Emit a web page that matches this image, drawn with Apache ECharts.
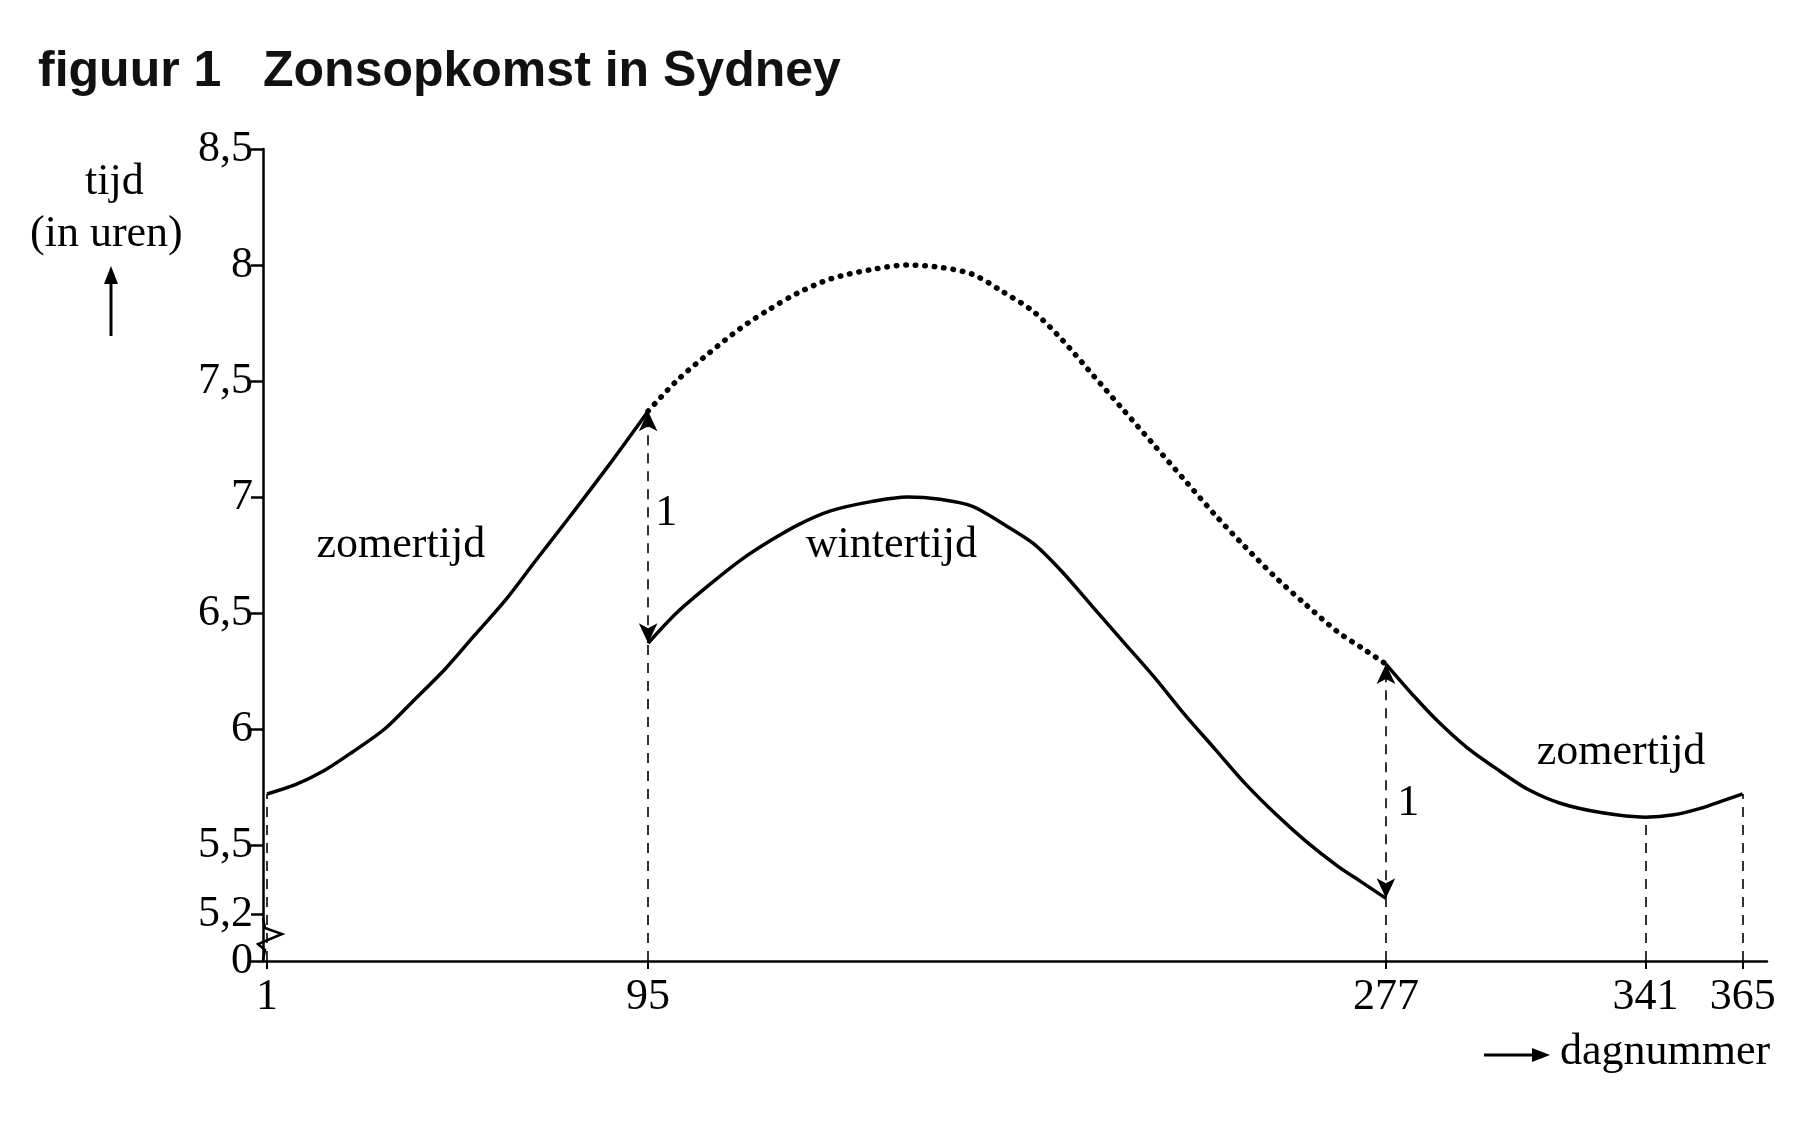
<!DOCTYPE html>
<html>
<head>
<meta charset="utf-8">
<script src="https://cdn.jsdelivr.net/npm/echarts@6/dist/echarts.min.js"></script>
<style>html,body{margin:0;background:#fff}#chart{width:1802px;height:1133px}</style>
</head>
<body>
<div id="chart"></div>
<script>
// dagnummer ticks and tijd ticks
var xTicks = [1, 95, 277, 341, 365];
var yTicks = [5, 5.2, 5.5, 6, 6.5, 7, 7.5, 8, 8.5];

// zonsopkomst (klok) in uren
var zomer1 = [[1, 5.72], [8, 5.76], [15, 5.82], [22, 5.9], [30, 6.0], [37, 6.12], [45, 6.26], [52, 6.4],
    [60, 6.56], [67, 6.72], [75, 6.9], [85, 7.13], [95, 7.37]];
var zomerStippel = [[95, 7.37], [102, 7.5], [110, 7.62], [118, 7.73], [125, 7.81], [132, 7.88], [140, 7.94],
    [150, 7.98], [159, 8.0], [167, 7.99], [175, 7.96], [182, 7.89], [190, 7.8], [197, 7.68], [205, 7.52],
    [212, 7.38], [220, 7.22], [227, 7.08], [235, 6.92], [242, 6.79], [250, 6.65], [257, 6.54], [265, 6.42],
    [271, 6.35], [277, 6.28]];
var winter = [[95, 6.37], [102, 6.5], [110, 6.62], [118, 6.73], [125, 6.81], [132, 6.88], [140, 6.94],
    [150, 6.98], [159, 7.0], [167, 6.99], [175, 6.96], [182, 6.89], [190, 6.8], [197, 6.68], [205, 6.52],
    [212, 6.38], [220, 6.22], [227, 6.07], [235, 5.91], [242, 5.77], [250, 5.63], [257, 5.52], [265, 5.41],
    [271, 5.34], [277, 5.27]];
var zomer2 = [[277, 6.28], [284, 6.14], [290, 6.03], [297, 5.92], [305, 5.82], [312, 5.74], [320, 5.68],
    [330, 5.64], [341, 5.62], [348, 5.63], [355, 5.66], [360, 5.69], [365, 5.72]];

// teksten in de grafiek
var labels = [
    { value: [34, 6.79], text: 'zomertijd' },
    { value: [155, 6.79], text: 'wintertijd' },
    { value: [335, 5.9], text: 'zomertijd' },
    { value: [99.5, 6.93], text: '1' },
    { value: [282.5, 5.68], text: '1' }
];

var serif = 'Liberation Serif';
var dash = { type: [10, 8], width: 1.6, color: '#000' };

function seg(x, y1, y2, arrows) {
    var s = arrows ? 'arrow' : 'none';
    return [{ coord: [x, y1], symbol: s }, { coord: [x, y2], symbol: s }];
}

var chart = echarts.init(document.getElementById('chart'));
chart.setOption({
    animation: false,
    backgroundColor: '#fff',
    title: {
        text: 'figuur 1   Zonsopkomst in Sydney',
        left: 33, top: 42,
        textStyle: { fontFamily: 'Liberation Sans', fontSize: 50, fontWeight: 'bold', color: '#111' }
    },
    grid: { left: 263, right: 35, top: 149, bottom: 172 },
    xAxis: {
        type: 'value', min: 0, max: 371,
        axisLine: { lineStyle: { color: '#000', width: 2.5 } },
        axisTick: { customValues: xTicks, length: 8, lineStyle: { color: '#000', width: 2 } },
        axisLabel: { customValues: xTicks, fontFamily: serif, fontSize: 44, color: '#000', margin: 14 },
        splitLine: { show: false }
    },
    yAxis: {
        type: 'value', min: 5, max: 8.5,
        axisLine: { show: true, lineStyle: { color: '#000', width: 2.5 } },
        axisTick: { show: true, customValues: yTicks, length: 12, lineStyle: { color: '#000', width: 2.5 } },
        axisLabel: {
            customValues: yTicks, fontFamily: serif, fontSize: 44, color: '#000', margin: 10,
            formatter: function (v) { return v === 5 ? '0' : String(v).replace('.', ','); }
        },
        splitLine: { show: false }
    },
    series: [
        { type: 'line', data: zomer1, smooth: 0.3, symbol: 'none', lineStyle: { color: '#000', width: 3.5 } },
        { type: 'line', data: zomerStippel, smooth: 0.3, symbol: 'none',
          lineStyle: { color: '#000', width: 5.5, type: [0.5, 9], cap: 'round' } },
        { type: 'line', data: winter, smooth: 0.3, symbol: 'none', lineStyle: { color: '#000', width: 3.5 },
          markLine: {
              silent: true, symbolSize: [14, 20], label: { show: false }, lineStyle: dash,
              data: [
                  seg(1, 5, 5.72, false),
                  seg(95, 5, 6.37, false),
                  seg(95, 6.37, 7.37, true),
                  seg(277, 5, 5.27, false),
                  seg(277, 5.27, 6.28, true),
                  seg(341, 5, 5.62, false),
                  seg(365, 5, 5.72, false)
              ]
          } },
        { type: 'line', data: zomer2, smooth: 0.3, symbol: 'none', lineStyle: { color: '#000', width: 3.5 } },
        { type: 'scatter', symbolSize: 0, silent: true,
          data: labels.map(function (l) { return { value: l.value, name: l.text }; }),
          label: { show: true, position: 'inside', formatter: '{b}', fontFamily: serif, fontSize: 44,
                   color: '#000', textBorderWidth: 0, opacity: 1 } }
    ],
    graphic: [
        { type: 'text', left: 85, top: 160, style: { text: 'tijd', fontFamily: serif, fontSize: 44, fill: '#000' } },
        { type: 'text', left: 30, top: 212, style: { text: '(in uren)', fontFamily: serif, fontSize: 44, fill: '#000' } },
        { type: 'line', shape: { x1: 111, y1: 336, x2: 111, y2: 278 }, style: { stroke: '#000', lineWidth: 3 } },
        { type: 'polygon', shape: { points: [[111, 266], [104, 284], [118, 284]] }, style: { fill: '#000' } },
        { type: 'line', shape: { x1: 1484, y1: 1055, x2: 1536, y2: 1055 }, style: { stroke: '#000', lineWidth: 3 } },
        { type: 'polygon', shape: { points: [[1550, 1055], [1532, 1048], [1532, 1062]] }, style: { fill: '#000' } },
        { type: 'text', left: 1560, top: 1030, style: { text: 'dagnummer', fontFamily: serif, fontSize: 44, fill: '#000' } },
        { type: 'rect', shape: { x: 258, y: 922, width: 12, height: 30 }, style: { fill: '#fff' } },
        { type: 'polyline', shape: { points: [[263, 918], [265, 928], [282, 934], [258, 944], [265, 950], [263, 960]] },
          style: { stroke: '#000', lineWidth: 2.5, fill: null } }
    ]
});
</script>
</body>
</html>
